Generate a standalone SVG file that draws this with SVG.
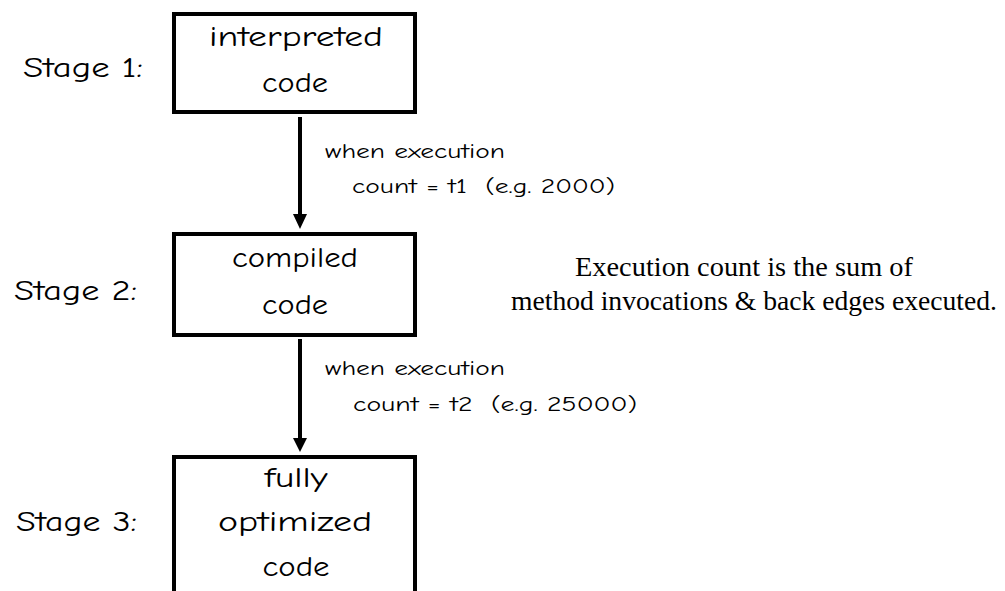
<svg xmlns="http://www.w3.org/2000/svg" width="1005" height="591" viewBox="0 0 1005 591">
<style>
.box{fill:#fff;stroke:#000;stroke-width:4}
.hand{font-family:"Comic Sans MS","Comic Neue","DejaVu Sans",sans-serif;fill:#000}
.stage{font-size:28px}
.node{font-size:28px;text-anchor:middle}
.lbl{font-size:21px}
.note{font-family:"Liberation Serif","Times New Roman",serif;font-size:28px;fill:#000}
.edge{stroke:#000;stroke-width:4;fill:none}
</style>
<rect width="1005" height="591" fill="#fff"/>
<g id="stage-labels">
<text class="hand stage" x="23" y="77" textLength="120" lengthAdjust="spacingAndGlyphs">Stage 1:</text>
<text class="hand stage" x="14" y="300" textLength="123" lengthAdjust="spacingAndGlyphs">Stage 2:</text>
<text class="hand stage" x="16" y="531" textLength="121" lengthAdjust="spacingAndGlyphs">Stage 3:</text>
</g>
<g id="node1">
<rect class="box" x="174" y="14" width="241" height="98"/>
<text class="hand node" x="296" y="46" textLength="174" lengthAdjust="spacingAndGlyphs">interpreted</text>
<text class="hand node" x="295" y="92" textLength="66" lengthAdjust="spacingAndGlyphs">code</text>
</g>
<g id="node2">
<rect class="box" x="174" y="234" width="241" height="101"/>
<text class="hand node" x="295" y="267" textLength="126" lengthAdjust="spacingAndGlyphs">compiled</text>
<text class="hand node" x="295" y="314" textLength="66" lengthAdjust="spacingAndGlyphs">code</text>
</g>
<g id="node3">
<rect class="box" x="174" y="457" width="241" height="150"/>
<text class="hand node" x="296" y="487" textLength="63" lengthAdjust="spacingAndGlyphs">fully</text>
<text class="hand node" x="295" y="531" textLength="154" lengthAdjust="spacingAndGlyphs">optimized</text>
<text class="hand node" x="296" y="576" textLength="67" lengthAdjust="spacingAndGlyphs">code</text>
</g>
<g id="connectors">
<path class="edge" d="M300,117 L300,220"/>
<path d="M293,214 L307,214 L300,229 Z" fill="#000"/>
<path class="edge" d="M300,339 L300,443"/>
<path d="M293,438 L307,438 L300,452 Z" fill="#000"/>
</g>
<g id="edge-labels">
<text class="hand lbl" x="325" y="158" textLength="180" lengthAdjust="spacingAndGlyphs">when execution</text>
<text class="hand lbl" x="352" y="193" textLength="263" lengthAdjust="spacingAndGlyphs" xml:space="preserve">count = t1  (e.g. 2000)</text>
<text class="hand lbl" x="325" y="375" textLength="180" lengthAdjust="spacingAndGlyphs">when execution</text>
<text class="hand lbl" x="353" y="411" textLength="284" lengthAdjust="spacingAndGlyphs" xml:space="preserve">count = t2  (e.g. 25000)</text>
</g>
<g id="note">
<text class="note" x="575" y="276" textLength="338" lengthAdjust="spacingAndGlyphs">Execution count is the sum of</text>
<text class="note" x="511" y="310" textLength="486" lengthAdjust="spacingAndGlyphs">method invocations &amp; back edges executed.</text>
</g>
</svg>
